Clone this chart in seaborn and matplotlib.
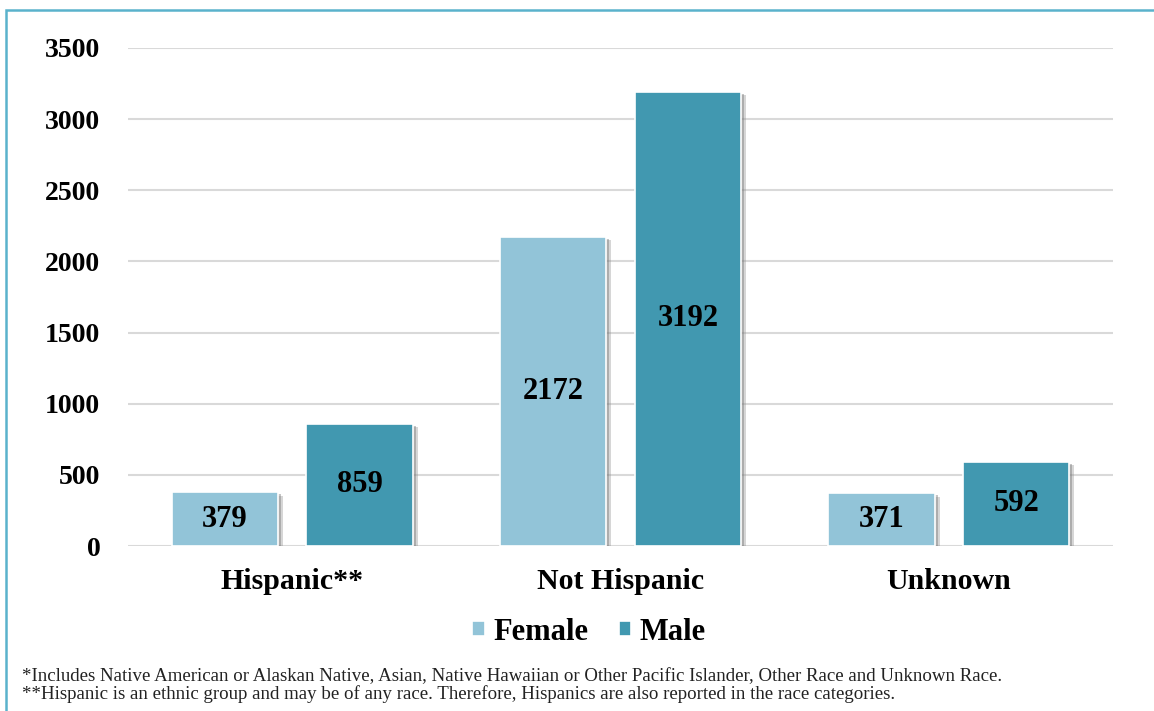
import pandas as pd
import seaborn as sns
import matplotlib.pyplot as plt
import matplotlib.patheffects as pe
from matplotlib.patches import Rectangle

# --- data ---
categories = ['Hispanic**', 'Not Hispanic', 'Unknown']
female = [379, 2172, 371]
male = [859, 3192, 592]
y_ticks = [0, 500, 1000, 1500, 2000, 2500, 3000, 3500]
footnotes = [
    '*Includes Native American or Alaskan Native, Asian, Native Hawaiian or Other Pacific Islander, Other Race and Unknown Race.',
    '**Hispanic is an ethnic group and may be of any race. Therefore, Hispanics are also reported in the race categories.',
]

df = pd.DataFrame({
    'Ethnicity': categories * 2,
    'Sex': ['Female'] * 3 + ['Male'] * 3,
    'Count': female + male,
})

sns.set_style('white')
plt.rcParams['font.family'] = ['Liberation Serif']
plt.rcParams['text.color'] = 'black'

fig = plt.figure(figsize=(11.54, 7.11), dpi=100)
ax = fig.add_axes([0.111, 0.232, 0.8535, 0.7005])

palette = {'Female': '#92C4D8', 'Male': '#4198B0'}
sns.barplot(data=df, x='Ethnicity', y='Count', hue='Sex', order=categories,
            hue_order=['Female', 'Male'], palette=palette, width=0.82, gap=0.21,
            edgecolor='white', linewidth=1.2, saturation=1, ax=ax, legend=True)

for cont in ax.containers:
    ax.bar_label(cont, label_type='center', fontsize=22, fontweight='bold', color='black')

ax.set_ylim(0, 3500)
ax.set_yticks(y_ticks)
ax.yaxis.grid(True, color='#D9D9D9', linewidth=1.5)
ax.set_axisbelow(True)
sns.despine(ax=ax, left=True, bottom=True)
ax.tick_params(axis='y', length=0, pad=20, labelsize=20, labelcolor='black')
ax.tick_params(axis='x', length=0, pad=16, labelsize=21.5, labelcolor='black')
for lab in ax.get_xticklabels() + ax.get_yticklabels():
    lab.set_fontweight('bold')
ax.set_xlabel('')
ax.set_ylabel('')

leg = ax.legend(loc='center', bbox_to_anchor=(0.5104, 0.111), bbox_transform=fig.transFigure,
                ncol=2, frameon=False, prop={'size': 22, 'weight': 'bold'},
                handlelength=0.4, handleheight=0.4, handletextpad=0.28, columnspacing=1.0)
for t in leg.get_texts():
    t.set_color('black')

# soft drop shadow like the office chart (bars only, not legend keys)
for p in ax.patches:
    p.set_path_effects([pe.SimplePatchShadow(offset=(3.5, -2.5), shadow_rgbFace='#8a8a8a', alpha=0.35),
                        pe.SimplePatchShadow(offset=(2, -1.5), shadow_rgbFace='#707070', alpha=0.4),
                        pe.Normal()])

fig.text(0.019, 0.049, footnotes[0], fontsize=13.6, va='center', ha='left', color='#222222')
fig.text(0.019, 0.024, footnotes[1], fontsize=13.6, va='center', ha='left', color='#222222')

# light blue frame around the chart
fig.add_artist(Rectangle((6 / 1154, -0.05), 1.2, 1 - 10 / 711 + 0.05, transform=fig.transFigure,
                         fill=False, edgecolor='#5AB2CC', linewidth=1.8))

fig.savefig('out.png', dpi=100)
